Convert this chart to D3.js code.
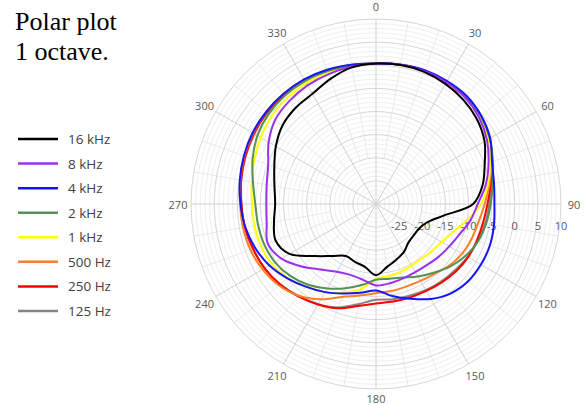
<!DOCTYPE html>
<html>
<head>
<meta charset="utf-8">
<script src="https://cdn.jsdelivr.net/npm/d3@7"></script>
<style>
  html, body { margin: 0; padding: 0; background: #fff; }
  svg { display: block; }
</style>
</head>
<body>
<svg id="chart" width="587" height="405"></svg>
<script>
// Directivity measured every 10 degrees (dB relative to reference)
const angles = [0, 10, 20, 30, 40, 50, 60, 70, 80, 90, 100, 110, 120, 130, 140, 150, 160, 170,
                180, 190, 200, 210, 220, 230, 240, 250, 260, 270, 280, 290, 300, 310, 320, 330, 340, 350];

const seriesNames = ["16 kHz", "8 kHz", "4 kHz", "2 kHz", "1 kHz", "500 Hz", "250 Hz", "125 Hz"];
const seriesColors = ["#000000", "#9b30f0", "#1414ff", "#559155", "#ffff00", "#ff7f27", "#ff0000", "#848484"];

const f16k = [0.4, 0.5, 0.4, 0.0, -0.6, -1.5, -2.9, -5.0, -6.6, -9.0, -15.3, -18.3, -19.3, -19.4, -19.1, -18.0, -17.2, -16.2,
              -14.6, -16.2, -16.7, -17.0, -15.3, -12.5, -8.4, -6.9, -7.6, -8.2, -7.7, -6.6, -5.0, -3.6, -2.9, -2.5, -1.2, 0.0];
const f8k  = [0.4, 0.6, 0.6, 0.4, 0.0, -0.9, -2.3, -4.1, -5.9, -8.0, -9.3, -10.8, -11.7, -12.3, -12.8, -13.0, -12.9, -12.6,
              -12.4, -13.4, -13.7, -13.1, -11.5, -9.0, -6.4, -5.1, -6.0, -6.3, -6.0, -5.2, -3.2, -1.6, -0.9, -0.4, -0.1, 0.2];
const f4k  = [0.4, 0.6, 0.8, 0.7, 0.5, -0.3, -1.5, -3.3, -4.1, -4.4, -4.1, -3.8, -3.8, -4.0, -4.8, -6.3, -8.2, -9.8,
              -11.3, -10.5, -9.4, -8.0, -6.6, -5.0, -3.4, -2.2, -1.3, -0.7, -0.1, 0.4, 0.8, 1.0, 1.1, 1.1, 0.9, 0.6];
const f2k  = [0.4, 0.6, 0.7, 0.6, 0.3, -0.4, -1.6, -3.1, -4.4, -5.2, -5.8, -6.5, -7.6, -9.0, -10.6, -11.9, -13.1, -13.6,
              -13.6, -12.2, -10.6, -8.9, -7.2, -5.8, -4.8, -4.3, -4.1, -3.9, -3.0, -1.6, -0.4, 0.3, 0.6, 0.7, 0.6, 0.4];
const f1k  = [0.4, 0.6, 0.6, 0.4, 0.1, -0.7, -2.0, -3.7, -5.4, -7.3, -10.0, -12.3, -13.6, -14.2, -14.6, -14.6, -14.4, -14.2,
              -13.8, -11.3, -9.6, -8.0, -6.7, -5.1, -4.0, -3.5, -3.3, -3.2, -2.7, -2.0, -1.2, -0.5, -0.1, 0.2, 0.3, 0.3];
const f500 = [0.4, 0.6, 0.7, 0.5, 0.2, -0.6, -1.9, -3.5, -5.1, -6.5, -7.5, -8.0, -8.5, -9.3, -10.3, -10.8, -11.0, -10.9,
              -10.7, -9.9, -8.6, -6.2, -4.1, -2.6, -1.7, -1.1, -0.8, -0.6, -0.2, 0.3, 0.7, 1.0, 1.1, 1.0, 0.8, 0.5];
const f250 = [0.4, 0.6, 0.7, 0.5, 0.2, -0.5, -1.8, -3.4, -4.8, -5.9, -6.5, -6.8, -7.0, -7.4, -7.9, -8.3, -8.5, -8.6,
              -8.5, -7.6, -6.0, -4.9, -3.9, -2.9, -2.2, -1.7, -1.2, -0.9, -0.4, 0.1, 0.5, 0.8, 0.9, 0.9, 0.7, 0.5];
const f125 = [0.4, 0.6, 0.7, 0.6, 0.3, -0.5, -1.7, -3.2, -4.6, -5.5, -6.0, -6.6, -7.1, -7.7, -8.1, -8.5, -8.9, -9.1,
              -9.3, -8.0, -6.2, -5.0, -4.0, -3.0, -2.2, -1.7, -1.2, -0.9, -0.4, 0.0, 0.4, 0.7, 0.9, 0.9, 0.7, 0.5];

const seriesValues = [f16k, f8k, f4k, f2k, f1k, f500, f250, f125];

const radialTicks = [-25, -20, -15, -10, -5, 0, 5, 10];
const angleLabels = [0, 30, 60, 90, 120, 150, 180, 210, 240, 270, 300, 330];
const titleLines = ["Polar plot", "1 octave."];

// ---- layout ----
const svg = d3.select("#chart");
const cx = 376, cy = 204, R = 185;
const rScale = d3.scaleLinear().domain([-30, 10]).range([0, R]);
const rad = a => a * Math.PI / 180;

const plot = svg.append("g").attr("transform", `translate(${cx},${cy})`);

// minor rings every 1 dB
const minorRings = d3.range(-29, 10.5, 1).filter(v => v % 5 !== 0);
plot.append("g").selectAll("circle").data(minorRings).join("circle")
  .attr("r", d => rScale(d)).attr("fill", "none")
  .attr("stroke", "#efefef").attr("stroke-width", 1);

// minor spokes every 10 degrees
const minorSpokes = d3.range(0, 360, 10).filter(a => a % 30 !== 0);
plot.append("g").selectAll("line").data(minorSpokes).join("line")
  .attr("x1", d => rScale(-20) * Math.sin(rad(d)))
  .attr("y1", d => -rScale(-20) * Math.cos(rad(d)))
  .attr("x2", d => R * Math.sin(rad(d)))
  .attr("y2", d => -R * Math.cos(rad(d)))
  .attr("stroke", "#eaeaea").attr("stroke-width", 1);

// major rings every 5 dB
plot.append("g").selectAll("circle").data(radialTicks).join("circle")
  .attr("r", d => rScale(d)).attr("fill", "none")
  .attr("stroke", "#d6d6d6").attr("stroke-width", 1);

// major spokes every 30 degrees
plot.append("g").selectAll("line").data(angleLabels).join("line")
  .attr("x1", 0).attr("y1", 0)
  .attr("x2", d => R * Math.sin(rad(d)))
  .attr("y2", d => -R * Math.cos(rad(d)))
  .attr("stroke", "#d0d0d0").attr("stroke-width", 1);

// angle labels (kept inside the bottom edge)
plot.append("g").selectAll("text").data(angleLabels).join("text")
  .attr("x", d => 198 * Math.sin(rad(d)))
  .attr("y", d => Math.min(-198 * Math.cos(rad(d)), 194))
  .attr("text-anchor", "middle").attr("dominant-baseline", "central")
  .attr("font-family", "'Open Sans', sans-serif").attr("font-size", 11)
  .attr("fill", "#595959")
  .text(d => d);

// radial value labels
plot.append("g").selectAll("text").data(radialTicks).join("text")
  .attr("x", d => rScale(d))
  .attr("y", 21)
  .attr("text-anchor", "middle").attr("dominant-baseline", "central")
  .attr("font-family", "'Open Sans', sans-serif").attr("font-size", 11)
  .attr("fill", "#595959")
  .text(d => d);

// response curves (lowest band first so 16 kHz sits on top)
const line = d3.lineRadial()
  .angle(d => rad(d.a))
  .radius(d => rScale(d.v))
  .curve(d3.curveCatmullRomClosed.alpha(0.5));

const series = seriesNames.map((name, i) => ({
  name, color: seriesColors[i],
  points: angles.map((a, j) => ({ a, v: seriesValues[i][j] }))
}));

plot.append("g").selectAll("path").data(series.slice().reverse()).join("path")
  .attr("d", d => line(d.points))
  .attr("fill", "none")
  .attr("stroke", d => d.color)
  .attr("stroke-width", 2)
  .attr("stroke-linejoin", "round");

// legend
const legend = svg.append("g");
const legendY = d3.scaleLinear().domain([0, 7]).range([139, 311]);
const items = legend.selectAll("g").data(series).join("g")
  .attr("transform", (d, i) => `translate(0,${legendY(i)})`);
items.append("line")
  .attr("x1", 18).attr("x2", 58).attr("y1", 0).attr("y2", 0)
  .attr("stroke", d => d.color).attr("stroke-width", 2.5);
items.append("text")
  .attr("x", 68).attr("y", 0)
  .attr("dominant-baseline", "central")
  .attr("font-family", "'Open Sans', sans-serif").attr("font-size", 13.5)
  .attr("fill", "#404040")
  .text(d => d.name);

// title
svg.append("g").selectAll("text").data(titleLines).join("text")
  .attr("x", 15).attr("y", (d, i) => 30 + i * 30)
  .attr("font-family", "'Liberation Serif', 'Times New Roman', serif")
  .attr("font-size", 26).attr("fill", "#000")
  .text(d => d);
</script>
</body>
</html>
